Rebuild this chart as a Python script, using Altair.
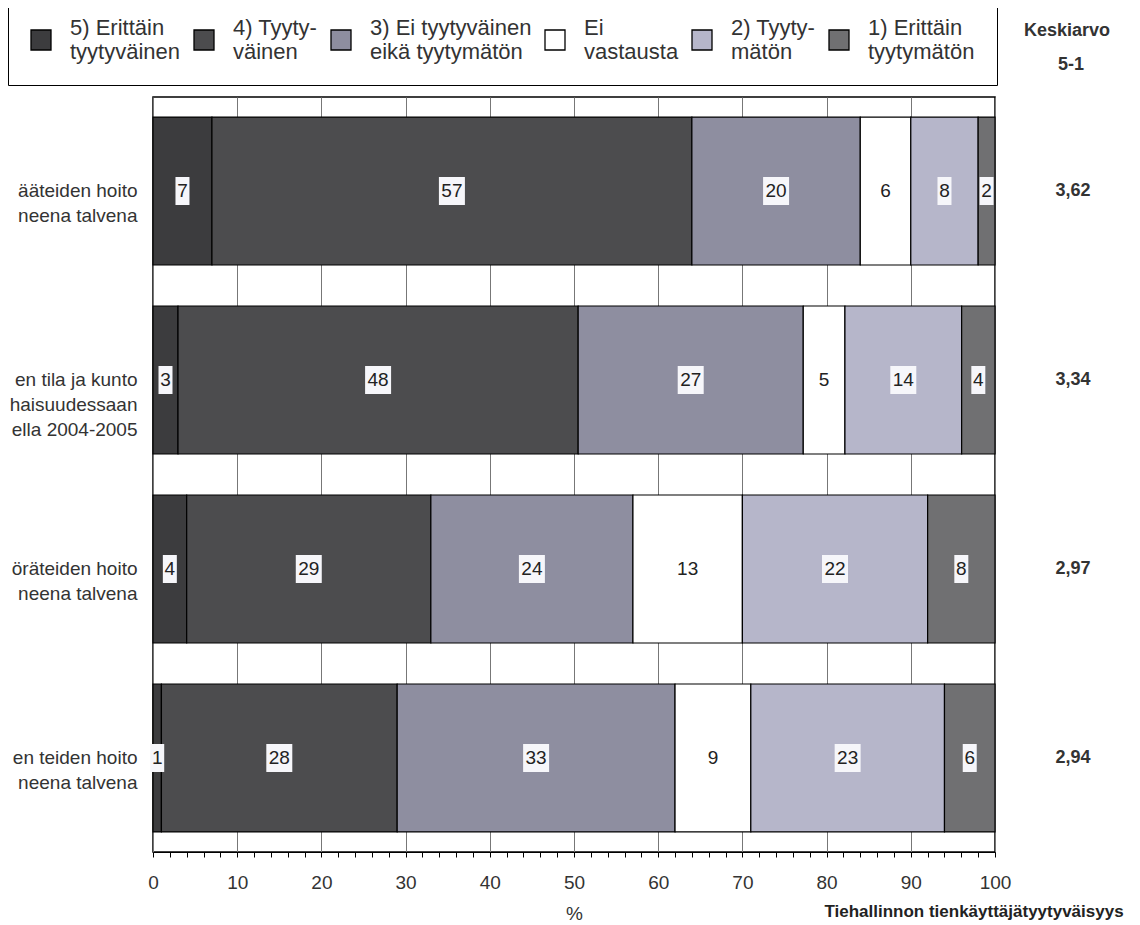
import altair as alt
import pandas as pd

categories = [
    "ääteiden hoito|neena talvena",
    "en tila ja kunto|haisuudessaan|ella 2004-2005",
    "öräteiden hoito|neena talvena",
    "en teiden hoito|neena talvena",
]
series = [
    "5) Erittäin|tyytyväinen",
    "4) Tyyty-|väinen",
    "3) Ei tyytyväinen|eikä tyytymätön",
    "Ei|vastausta",
    "2) Tyyty-|mätön",
    "1) Erittäin|tyytymätön",
]
colors = ["#3c3c3e", "#4c4c4e", "#8e8ea0", "#ffffff", "#b6b6ca", "#707072"]

s5 = [7, 3, 4, 1]
s4 = [57, 48, 29, 28]
s3 = [20, 27, 24, 33]
s_na = [6, 5, 13, 9]
s2 = [8, 14, 22, 23]
s1 = [2, 4, 8, 6]
means = ["3,62", "3,34", "2,97", "2,94"]
x_ticks = list(range(0, 101, 2))

rows = []
for ci, cat in enumerate(categories):
    for si, (name, vals) in enumerate(zip(series, [s5, s4, s3, s_na, s2, s1])):
        rows.append({"cat": cat, "series": name, "value": vals[ci], "order": si})
df = pd.DataFrame(rows)
mean_df = pd.DataFrame({"cat": categories, "mean": means})

FONT = "Liberation Sans"
ysc = alt.Scale(paddingInner=0.217, paddingOuter=0.106)
xsc = alt.Scale(domain=[0, 100], nice=False)

x_axis = alt.Axis(values=x_ticks,
                  labelExpr="datum.value % 10 === 0 ? datum.label : ''",
                  gridOpacity={"condition": {"test": "datum.value % 10 === 0", "value": 1}, "value": 0},
                  gridColor="#777", gridWidth=1,
                  tickColor="black", tickSize=5, domainColor="black",
                  labelFontSize=19, labelColor="#333", labelPadding=16,
                  labelFlush=False, labelOverlap=False,
                  titleFontSize=19, titleFontWeight="normal", titleColor="#333",
                  titlePadding=12)
y_axis = alt.Axis(domain=False, ticks=False, grid=False,
                  labelExpr="split(datum.label, '|')",
                  labelAlign="right",
                  labelFontSize=19, labelColor="#333", labelPadding=16,
                  labelLimit=0, labelLineHeight=25)


def X(field):
    return alt.X(field, title="%", scale=xsc, axis=x_axis)


def Y():
    return alt.Y("cat:N", title=None, sort=categories, scale=ysc, axis=y_axis)


base = alt.Chart(df).transform_stack(
    stack="value", as_=["s0", "s1"], groupby=["cat"],
    sort=[alt.SortField("order")], offset="normalize"
).transform_calculate(
    p0="datum.s0*100", p1="datum.s1*100", mid="(datum.s0+datum.s1)*50"
)

bars = base.mark_bar(stroke="black", strokeWidth=1.2, opacity=1).encode(
    x=X("p0:Q"),
    x2="p1:Q",
    y=Y(),
    color=alt.Color("series:N", sort=series,
                    scale=alt.Scale(domain=series, range=colors),
                    legend=alt.Legend(title=None, orient="none", legendX=-145, legendY=-90,
                                      direction="horizontal", columns=6,
                                      symbolType="square", symbolSize=400,
                                      symbolStrokeColor="black", symbolStrokeWidth=1.3,
                                      symbolOpacity=1,
                                      labelFontSize=22, labelColor="#333",
                                      labelExpr="split(datum.label, '|')",
                                      labelBaseline="bottom",
                                      labelLimit=0, labelOffset=18,
                                      strokeColor="black", fillColor="white",
                                      padding=22, columnPadding=10)),
)

boxes1 = base.transform_filter(
    "datum.series != 'Ei|vastausta' && datum.value < 10"
).mark_tick(thickness=14, size=28, color="#f6f6fa", opacity=1).encode(
    x=X("mid:Q"), y=Y(),
)
boxes2 = base.transform_filter(
    "datum.series != 'Ei|vastausta' && datum.value >= 10"
).mark_tick(thickness=26, size=28, color="#f6f6fa", opacity=1).encode(
    x=X("mid:Q"), y=Y(),
)

labels = base.mark_text(fontSize=19, color="#222", font=FONT).encode(
    x=X("mid:Q"), y=Y(), text="value:Q",
)

mean_text = alt.Chart(mean_df).mark_text(fontSize=18, fontWeight="bold", color="#333", font=FONT).encode(
    x=alt.value(920), y=Y(), text="mean:N",
)

h1 = alt.Chart(pd.DataFrame({"t": ["Keskiarvo"]})).mark_text(
    fontSize=18, fontWeight="bold", color="#333", font=FONT
).encode(x=alt.value(914), y=alt.value(-66), text="t:N")
h2 = alt.Chart(pd.DataFrame({"t": ["5-1"]})).mark_text(
    fontSize=18, fontWeight="bold", color="#333", font=FONT
).encode(x=alt.value(918), y=alt.value(-32), text="t:N")
src = alt.Chart(pd.DataFrame({"t": ["Tiehallinnon tienkäyttäjätyytyväisyys"]})).mark_text(
    fontSize=17, fontWeight="bold", color="#222", font=FONT
).encode(x=alt.value(821), y=alt.value(815), text="t:N")

chart = alt.layer(bars, boxes1, boxes2, labels, mean_text, h1, h2, src).properties(
    width=842, height=755,
    autosize="none",
    padding={"left": 145, "top": 89, "right": 137, "bottom": 73},
).configure(font=FONT).configure_view(stroke="black", strokeWidth=1.5)

chart.save("out.html", embed_options={"renderer": "svg", "actions": False})
